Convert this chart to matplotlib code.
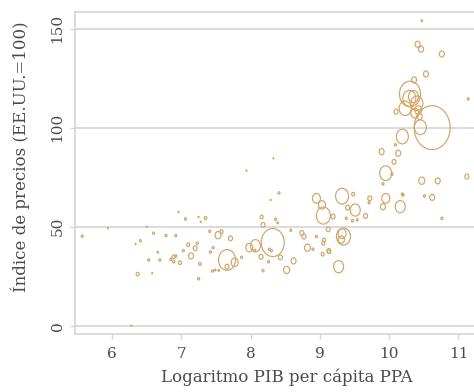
import numpy as np
import matplotlib
matplotlib.use("Agg")
import matplotlib.pyplot as plt
from matplotlib.path import Path
from matplotlib.transforms import Affine2D

# log GDP per capita (PPP), price level (USA = 100), weight (GDP, bn)
log_gdp = [5.57, 5.94, 6.28, 6.50, 6.37, 6.34, 6.41, 6.60, 6.58, 6.78,
           6.92, 6.66, 6.53, 6.69, 6.85, 6.89, 6.92, 6.89, 6.98, 7.03,
           7.10, 7.23, 7.20, 7.14, 7.27, 7.25, 7.42, 7.46, 7.45, 7.41,
           6.96, 7.06, 7.25, 7.28, 7.35,
           8.33, 7.94, 8.41, 8.29, 8.16, 8.36, 8.39, 7.53, 7.58, 7.71,
           7.66, 7.77, 7.66, 7.49, 7.54, 7.87, 7.98, 8.07, 8.06, 8.15,
           8.18, 8.32, 8.27, 8.30, 8.43, 8.26, 8.58, 8.62, 8.52, 8.74,
           8.77, 8.82, 8.90, 8.95, 9.06, 9.05, 9.04, 9.13, 8.95, 9.03,
           9.05, 9.12, 8.18,
           9.89, 10.13, 10.07, 9.95, 10.04, 9.91, 10.19, 9.95, 10.16, 9.91,
           9.72, 9.71, 9.48, 9.32, 9.40, 9.51, 9.66, 9.54, 9.47, 9.38,
           9.19, 9.34, 9.32, 9.31, 9.13, 9.27,
           10.53, 11.14, 10.36, 10.30, 10.29, 10.35, 10.40, 10.23, 10.10, 10.42,
           10.37, 10.44, 10.62, 10.45, 10.19, 10.09, 11.12, 10.47, 10.70, 10.20,
           10.51, 10.62, 10.47, 10.41, 10.46, 10.76, 10.76]

precios = [45.2, 49.2, 0.0, 50.0, 26.0, 41.3, 42.9, 46.7, 26.5, 45.5,
           45.5, 37.1, 33.2, 33.2, 33.5, 34.8, 35.2, 32.3, 31.8, 37.9,
           40.9, 41.6, 39.1, 35.2, 31.2, 23.7, 37.2, 39.4, 27.6, 47.7,
           57.4, 53.9, 54.9, 52.5, 54.4,
           84.5, 78.3, 67.0, 63.5, 54.9, 53.7, 51.9, 45.7, 47.5, 44.1,
           33.2, 32.0, 29.8, 28.1, 27.9, 34.5, 39.4, 40.4, 38.0, 34.8,
           27.8, 42.0, 38.6, 37.9, 34.5, 32.3, 48.2, 32.7, 28.1, 46.8,
           45.0, 39.4, 38.6, 45.0, 43.3, 41.6, 36.1, 37.4, 64.3, 61.0,
           55.6, 48.7, 50.9,
           87.9, 87.1, 82.7, 77.0, 76.5, 71.6, 66.4, 64.3, 60.1, 60.1,
           64.3, 62.1, 66.4, 65.4, 59.6, 58.4, 55.4, 53.4, 53.0, 54.2,
           55.1, 45.0, 46.5, 43.5, 37.7, 29.8,
           127.1, 114.5, 124.1, 117.0, 114.8, 115.7, 112.3, 109.8, 108.1, 108.9,
           107.3, 105.6, 100.0, 100.2, 95.5, 91.3, 75.3, 73.2, 73.1, 66.0,
           65.5, 64.8, 154.0, 142.1, 139.6, 137.2, 54.2]

pib = [43, 11, 11, 11, 97, 11, 43, 43, 11, 43,
       43, 24, 43, 43, 43, 97, 43, 43, 97, 43,
       97, 43, 172, 269, 67, 43, 43, 43, 43, 43,
       11, 43, 11, 11, 67,
       11, 11, 43, 11, 97, 43, 24, 387, 97, 172,
       3110, 527, 172, 24, 24, 43, 527, 1076, 43, 172,
       43, 5692, 43, 43, 172, 43, 43, 269, 387, 172,
       172, 387, 43, 43, 97, 97, 97, 97, 689, 527,
       2109, 172, 172,
       269, 269, 172, 1549, 43, 43, 43, 689, 1076, 269,
       172, 43, 97, 1818, 172, 1076, 172, 43, 43, 43,
       172, 2109, 689, 387, 172, 1076,
       269, 43, 269, 4745, 1818, 1076, 1549, 1549, 172, 527,
       689, 269, 13945, 1549, 1549, 43, 172, 387, 269, 43,
       43, 269, 24, 269, 269, 269, 43]

x_ticks = [6, 7, 8, 9, 10, 11]
y_ticks = [0, 50, 100, 150]

color = "#d2a466"
grey = "#d4d4d4"
text_color = "#4a4a4a"

plt.rcParams["font.family"] = ["DejaVu Serif"]

# Stata bubbles come out slightly taller than wide in the image
circle = Path.unit_circle()
ellipse = circle.transformed(Affine2D().scale(0.82, 1.0))

fig = plt.figure(figsize=(4.74, 3.92), dpi=100)
ax = fig.add_axes([75 / 474, 1 - 334 / 392, 1 - 75 / 474, (334 - 12) / 392])

sizes = 0.0717 * np.array(pib)
ax.scatter(log_gdp, precios, s=sizes, marker=ellipse, facecolors="none",
           edgecolors=color, linewidths=0.85, zorder=3)

ax.set_xlim(5.466, 11.224)
ax.set_ylim(-4.2, 158.4)
ax.set_xticks(x_ticks)
ax.set_yticks(y_ticks)
ax.grid(axis="y", color=grey, linewidth=1.2)
ax.set_axisbelow(True)

for side in ["left", "bottom", "top"]:
    ax.spines[side].set_color(grey)
    ax.spines[side].set_linewidth(1.2)
ax.spines["right"].set_visible(False)

ax.tick_params(axis="both", colors=grey, length=3.5, width=1.0,
               labelcolor=text_color, labelsize=11)
ax.tick_params(axis="x", pad=6)
ax.tick_params(axis="y", pad=4)
for lab in ax.get_yticklabels():
    lab.set_rotation(90)
    lab.set_va("center")

fig.text(287 / 474, 1 - 377 / 392, "Logaritmo PIB per cápita PPA",
         ha="center", va="center", fontsize=12, color=text_color)
fig.text(20 / 474, 1 - 157 / 392, "Índice de precios (EE.UU.=100)",
         ha="center", va="center", rotation=90, fontsize=12, color=text_color)

fig.savefig("out.png", dpi=100)
